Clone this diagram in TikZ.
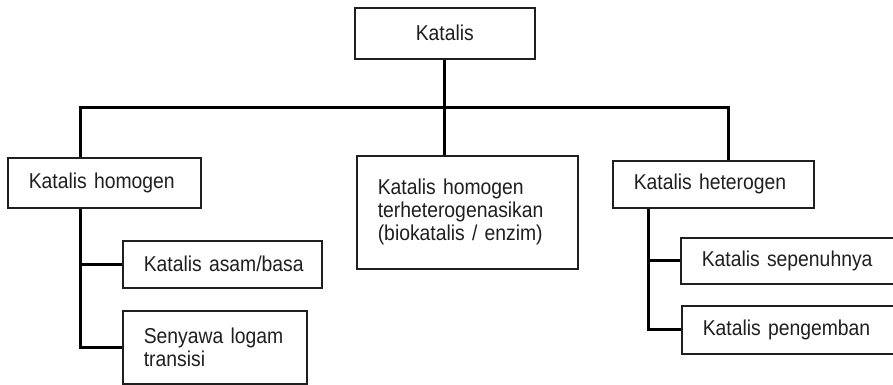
\documentclass[tikz,border=0pt]{standalone}
\usepackage{fontspec}
\setmainfont[FakeStretch=0.9]{Liberation Sans}
\begin{document}
\begin{tikzpicture}[x=1pt,y=-1pt,
  box/.style={draw=black!88, line width=1.6pt, fill=white, anchor=north west,
    inner xsep=21pt, inner ysep=0pt, align=left, text=black!88,
    font=\fontsize{21.5}{23}\selectfont},
  conn/.style={draw=black, line width=3pt}]
\clip (0,0) rectangle (893,385);
\fill[white] (0,0) rectangle (893,385);
\coordinate (jl) at (80,108);
\coordinate (jr) at (728,108);
\coordinate (jr2) at (648,108);
\node[box, text width=138pt, align=center, minimum height=51pt] (top) at (354,7) {Katalis};
\node[box, text width=151pt, minimum height=50pt] (homog) at (7,157) {\mbox{Katalis homogen}};
\node[box, text width=157pt, minimum height=47pt] (asam) at (122,240) {\mbox{Katalis asam/basa}};
\node[box, text width=142pt, minimum height=73pt] (senyawa) at (122,310) {\mbox{Senyawa logam}\\transisi};
\node[box, text width=179pt, minimum height=113pt] (mid) at (356,155) {\mbox{Katalis homogen}\\\mbox{terheterogenasikan}\\\mbox{(biokatalis / enzim)}};
\node[box, text width=159pt, minimum height=47pt] (heter) at (612,160) {\mbox{Katalis heterogen}};
\node[box, text width=188pt, minimum height=46pt] (sepenuh) at (680,237) {\mbox{Katalis sepenuhnya}};
\node[box, text width=188pt, minimum height=48pt] (pengemban) at (681,305) {\mbox{Katalis pengemban}};
\draw[conn] (top.south) -- (top.south |- mid.north);
\draw[conn] (homog.north -| jl) -- (jl) -- (jr) -- (heter.north -| jr);
\draw[conn] (homog.south -| jl) |- (senyawa.west);
\draw[conn] (asam.west) -- (asam.west -| jl);
\draw[conn] (heter.south -| jr2) |- (pengemban.west);
\draw[conn] (sepenuh.west) -- (sepenuh.west -| jr2);
\end{tikzpicture}
\end{document}
